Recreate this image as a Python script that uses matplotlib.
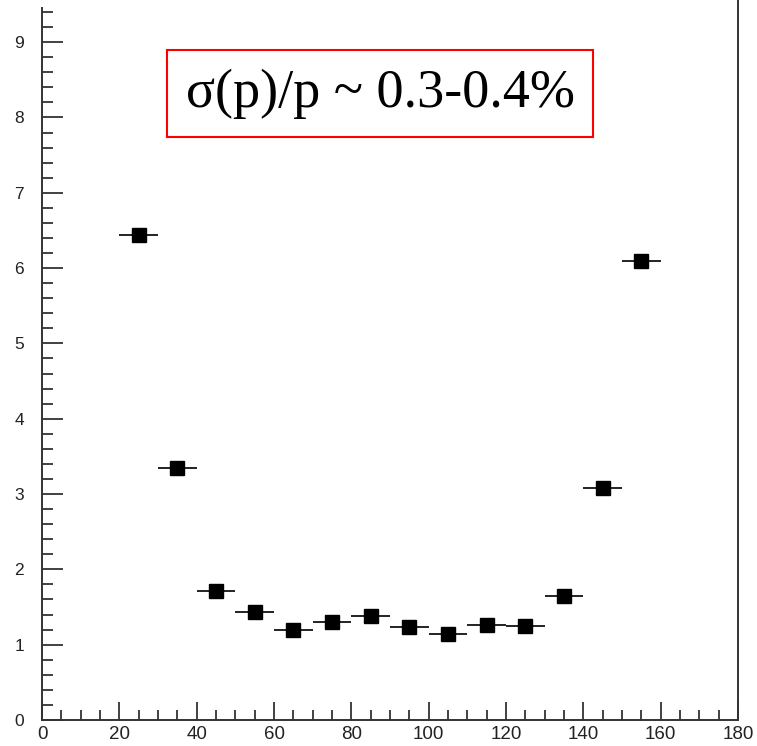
import numpy as np
import matplotlib.pyplot as plt
from matplotlib.ticker import MultipleLocator

# momentum bins (centre) and resolution values
x_centres = [25, 35, 45, 55, 65, 75, 85, 95, 105, 115, 125, 135, 145, 155]
x_halfwidth = [5] * len(x_centres)
resolution = [6.44, 3.35, 1.71, 1.43, 1.20, 1.30, 1.38, 1.24, 1.14, 1.26, 1.25, 1.65, 3.08, 6.10]
label_text = "\u03c3(p)/p ~ 0.3-0.4%"

fig = plt.figure(figsize=(7.57, 7.46), dpi=100)
ax = fig.add_axes([0.0555, 0.0349, 0.9195, 0.9651])

ax.errorbar(x_centres, resolution, xerr=x_halfwidth, fmt='s', color='black',
            ecolor='#222222', elinewidth=1.4, markersize=9.5, capsize=0)

ax.set_xlim(0, 180)
ax.set_ylim(0, 9.56)
ax.spines['top'].set_visible(False)
ax.spines['left'].set_bounds(0, 9.45)
for s in ['left', 'bottom', 'right']:
    ax.spines[s].set_color('#333333')
    ax.spines[s].set_linewidth(1.4)

ax.xaxis.set_major_locator(MultipleLocator(20))
ax.xaxis.set_minor_locator(MultipleLocator(5))
ax.yaxis.set_major_locator(MultipleLocator(1))
ax.yaxis.set_minor_locator(MultipleLocator(0.2))
ax.set_yticks(np.arange(0, 10, 1))
ax.tick_params(axis='both', which='both', direction='in', color='#333333', width=1.3)
ax.tick_params(axis='x', which='major', length=13, labelsize=13.5, pad=4)
ax.tick_params(axis='x', which='minor', length=7)
ax.tick_params(axis='y', which='major', length=15, labelsize=12.5, pad=13)
ax.tick_params(axis='y', which='minor', length=8)
ax.tick_params(top=False, right=False, which='both')
for lab in ax.get_xticklabels() + ax.get_yticklabels():
    lab.set_family('Liberation Sans')
    lab.set_color('#222222')

ax.text(87.5, 8.32, label_text,
        family='Liberation Serif', fontsize=39, ha='center', va='center',
        bbox=dict(boxstyle='square,pad=0.34', facecolor='white', edgecolor='red', linewidth=1.5))

fig.savefig('out.png', dpi=100)
